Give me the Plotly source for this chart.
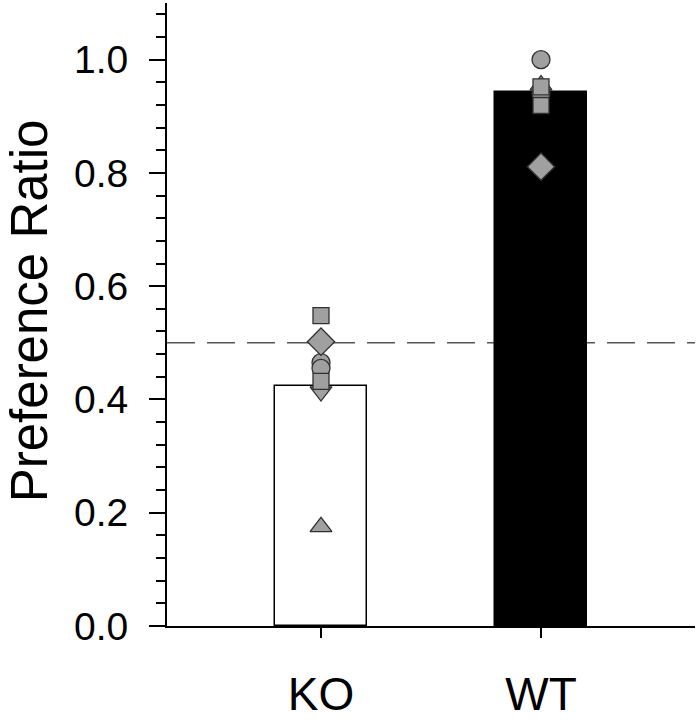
import plotly.graph_objects as go

categories = ["KO", "WT"]
bar_means = [0.424, 0.943]

ko_values = [0.414, 0.465, 0.455, 0.432, 0.548, 0.502, 0.175]
ko_symbols = ["triangle-down", "circle", "circle", "square", "square", "diamond", "triangle-up"]

wt_values = [0.955, 0.94, 0.952, 0.919, 1.0, 0.811]
wt_symbols = ["triangle-up", "circle", "square", "square", "circle", "diamond"]

chance_level = 0.5
y_tick_vals = [0.0, 0.2, 0.4, 0.6, 0.8, 1.0]
y_title = "Preference Ratio"

FONT = "Liberation Sans, Arial, sans-serif"

fig = go.Figure()

fig.add_trace(go.Bar(
    x=[0, 1], y=bar_means, width=0.42,
    marker=dict(color=["white", "black"], line=dict(color="black", width=1.5)),
    showlegend=False,
))

def sizes(symbols):
    return [21 if s == "diamond" else (19 if s in ("triangle-up", "triangle-down") else (18 if s == "circle" else 16))
            for s in symbols]

fig.add_trace(go.Scatter(
    x=[0] * len(ko_values), y=ko_values, mode="markers",
    marker=dict(symbol=ko_symbols, size=sizes(ko_symbols), color="#a0a0a0", opacity=1,
                line=dict(color="#303030", width=1.3)),
    showlegend=False,
))
fig.add_trace(go.Scatter(
    x=[1] * len(wt_values), y=wt_values, mode="markers",
    marker=dict(symbol=wt_symbols, size=sizes(wt_symbols), color="#a0a0a0", opacity=1,
                line=dict(color="#303030", width=1.3)),
    showlegend=False,
))

fig.add_shape(type="line", xref="paper", x0=0, x1=1, yref="y", y0=chance_level, y1=chance_level,
              line=dict(color="#555555", width=1.5, dash="28px,12px"), layer="below")

fig.add_annotation(
    text=y_title, xref="paper", yref="paper",
    x=(29.5 - 167) / 528, y=0.506, xanchor="center", yanchor="middle",
    textangle=-90, showarrow=False, font=dict(size=51, family=FONT, color="black"),
)

fig.update_layout(
    width=698, height=720,
    margin=dict(l=167, r=3, t=3, b=94),
    plot_bgcolor="white", paper_bgcolor="white",
    font=dict(family=FONT, color="black"),
    bargap=0,
)
fig.update_xaxes(
    range=[-0.7, 1.7], tickvals=[0, 1], ticktext=categories,
    showline=True, linecolor="black", linewidth=2,
    ticks="outside", ticklen=10, tickwidth=1.5, tickcolor="black",
    tickfont=dict(size=46, family=FONT), showgrid=False, zeroline=False,
    ticklabelstandoff=17,
    automargin=False,
)
fig.update_yaxes(
    range=[0, 1.1], tickvals=y_tick_vals, ticktext=[f"{v:.1f}" for v in y_tick_vals],
    showline=True, linecolor="black", linewidth=2,
    ticks="outside", ticklen=16, tickwidth=2, tickcolor="black",
    minor=dict(dtick=0.04, tick0=0, ticks="outside", ticklen=9, tickwidth=1.5, tickcolor="black", showgrid=False),
    tickfont=dict(size=39, family=FONT), showgrid=False, zeroline=False,
    ticklabelstandoff=13,
    automargin=False,
)

fig.write_html(
    "out.html",
    config={"displayModeBar": False},
    post_script="document.body.style.margin='0';document.body.style.overflow='hidden';",
)
